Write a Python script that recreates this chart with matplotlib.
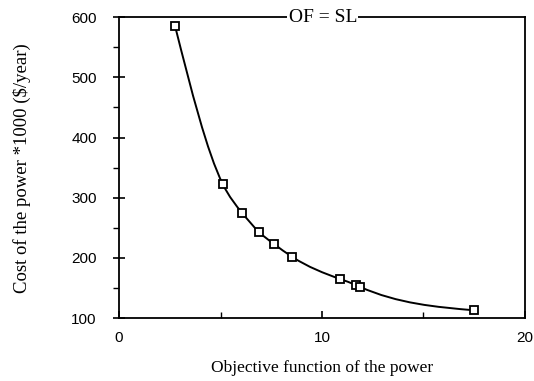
import matplotlib
matplotlib.use('Agg')
import matplotlib.pyplot as plt
from matplotlib.path import Path
from matplotlib.patches import PathPatch
import numpy as np

objective = [2.76, 5.12, 6.06, 6.9, 7.64, 8.52, 10.89, 11.67, 11.87, 17.5]
cost = [585, 322, 275, 243, 223, 202, 165, 155, 152, 113]
x_ticks = [0, 10, 20]
y_ticks = [100, 200, 300, 400, 500, 600]


def smooth_path(xs, ys):
    # natural cubic spline through the points, drawn as Bezier segments
    x = np.asarray(xs, float)
    y = np.asarray(ys, float)
    n = len(x)
    h = np.diff(x)
    d = np.diff(y) / h
    A = np.zeros((n, n))
    b = np.zeros(n)
    A[0, 0], A[0, 1], b[0] = 2, 1, 3 * d[0]
    A[-1, -2], A[-1, -1], b[-1] = 1, 2, 3 * d[-1]
    for i in range(1, n - 1):
        A[i, i - 1] = h[i]
        A[i, i] = 2 * (h[i - 1] + h[i])
        A[i, i + 1] = h[i - 1]
        b[i] = 3 * (h[i] * d[i - 1] + h[i - 1] * d[i])
    m = np.linalg.solve(A, b)
    verts = [(x[0], y[0])]
    codes = [Path.MOVETO]
    for i in range(n - 1):
        verts += [(x[i] + h[i] / 3, y[i] + m[i] * h[i] / 3),
                  (x[i + 1] - h[i] / 3, y[i + 1] - m[i + 1] * h[i] / 3),
                  (x[i + 1], y[i + 1])]
        codes += [Path.CURVE4] * 3
    return Path(verts, codes)


fig = plt.figure(figsize=(5.34, 3.81), dpi=100)
ax = fig.add_axes([0.223, 0.165, 0.760, 0.790])

ax.add_patch(PathPatch(smooth_path(objective, cost), facecolor='none',
                       edgecolor='black', lw=1.4))
ax.plot(objective, cost, linestyle='none', marker='s', markersize=6,
        markerfacecolor='white', markeredgecolor='black', markeredgewidth=1.3)

ax.set_xlim(0, 20)
ax.set_ylim(100, 600)
ax.set_xticks(x_ticks)
ax.set_xticks([5, 15], minor=True)
ax.set_yticks(y_ticks)
ax.set_yticks([150, 250, 350, 450, 550], minor=True)
ax.tick_params(axis='y', which='major', direction='inout', length=8, width=1.2,
               labelsize=11, pad=12)
ax.tick_params(axis='y', which='minor', direction='out', length=4, width=1)
ax.tick_params(axis='x', which='major', direction='in', length=5, width=1.2,
               labelsize=11, pad=9)
ax.tick_params(axis='x', which='minor', direction='in', length=4, width=1)
for lab in ax.get_xticklabels() + ax.get_yticklabels():
    lab.set_family('Liberation Sans')
for s in ax.spines.values():
    s.set_linewidth(1.3)

ax.set_xlabel('Objective function of the power', family='Liberation Serif',
              fontsize=12.5, labelpad=11)
ax.set_ylabel('Cost of the power *1000 ($/year)', family='Liberation Serif',
              fontsize=13.5, labelpad=29)
ax.text(0.502, 1.0, 'OF = SL', transform=ax.transAxes, ha='center', va='center',
        family='Liberation Serif', fontsize=14,
        bbox=dict(facecolor='white', edgecolor='none', pad=1))

fig.savefig('out.png', dpi=100)
